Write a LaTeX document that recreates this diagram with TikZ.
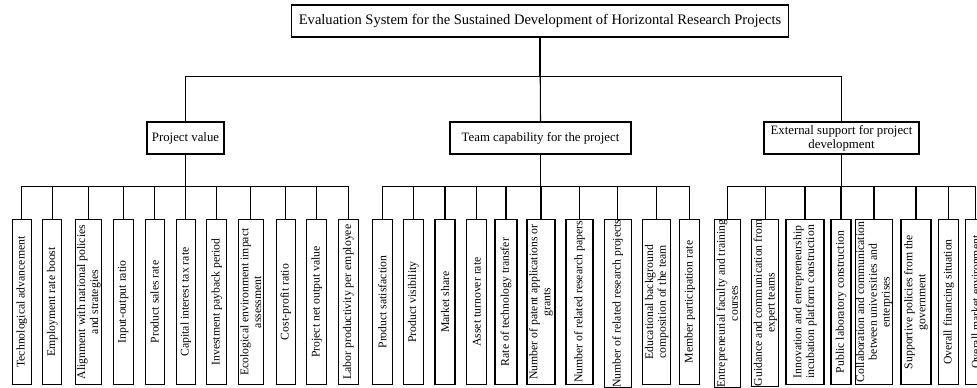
\documentclass[tikz,border=0pt]{standalone}
\usepackage{fontspec}
\setmainfont{Liberation Serif}
\usepackage{tikz}
\usetikzlibrary{positioning}

\tikzset{
  box/.style={draw, line width=0.8pt, inner sep=1pt, align=center},
  leaf/.style={draw, line width=0.8pt, rotate=90, anchor=east, inner sep=0pt,
               minimum width=123.75pt, minimum height=#1*0.75pt, align=center,
               font=\fontsize{8.8}{9.6}\selectfont},
  link/.style={line width=0.8pt}
}

\begin{document}
\begin{tikzpicture}[x=0.75pt, y=-0.75pt]
\useasboundingbox (0,0) rectangle (977,387);
%
\node[box, minimum width=372.75pt, minimum height=24pt, font=\fontsize{10.9}{12}\selectfont]
  (sys) at (540,21) {Evaluation System for the Sustained Development of Horizontal Research Projects};
%
\node[box, minimum width=57.75pt, minimum height=24pt, font=\fontsize{9.6}{10.5}\selectfont]
  (pv) at (185.5,138) {Project value};
\node[box, minimum width=135.75pt, minimum height=24pt, font=\fontsize{9.6}{10.5}\selectfont]
  (tc) at (540.5,138) {Team capability for the project};
\node[box, minimum width=116.25pt, minimum height=24pt, font=\fontsize{9.6}{10.5}\selectfont]
  (es) at (841.5,138) {External support for project\\development};
%
% project value
\node[leaf=19] (pv1) at (21.7,219) {Technological advancement};
\node[leaf=19] (pv2) at (52.3,219) {Employment rate boost};
\node[leaf=26] (pv3) at (88.8,219) {Alignment with national policies\\and strategies};
\node[leaf=20] (pv4) at (123.3,219) {Input-output ratio};
\node[leaf=19] (pv5) at (154.7,219) {Product sales rate};
\node[leaf=19] (pv6) at (185.7,219) {Capital interest tax rate};
\node[leaf=20] (pv7) at (216.8,219) {Investment payback period};
\node[leaf=25] (pv8) at (250.8,219) {Ecological environment impact\\assessment};
\node[leaf=19] (pv9) at (285.7,219) {Cost-profit ratio};
\node[leaf=20] (pv10) at (316.7,219) {Project net output value};
\node[leaf=20] (pv11) at (348.3,219) {Labor productivity per employee};
%
% team capability
\node[leaf=20] (tc1) at (382.3,219) {Product satisfaction};
\node[leaf=20] (tc2) at (413.3,219) {Product visibility};
\node[leaf=20] (tc3) at (445,219) {Market share};
\node[leaf=20] (tc4) at (476.7,219) {Asset turnover rate};
\node[leaf=22] (tc5) at (506,219) {Rate of technology transfer};
\node[leaf=28] (tc6) at (541,219) {Number of patent applications or\\grants};
\node[leaf=27] (tc7) at (579.5,219) {Number of related research papers};
\node[leaf=27] (tc8) at (617.7,219) {Number of related research projects};
\node[leaf=28] (tc9) at (656.7,219) {Educational background\\composition of the team};
\node[leaf=20] (tc10) at (689.7,219) {Member participation rate};
%
% external support
\node[leaf=26] (es1) at (727.3,219) {Entrepreneurial faculty and training\\courses};
\node[leaf=27] (es2) at (765.3,219) {Guidance and communication from\\expert teams};
\node[leaf=38] (es3) at (805,219) {Innovation and entrepreneurship\\incubation platform construction};
\node[leaf=20] (es4) at (841,219) {Public laboratory construction};
\node[leaf=37] (es5) at (874,219) {Collaboration and communication\\between universities and\\enterprises};
\node[leaf=30] (es6) at (916,219) {Supportive policies from the\\government};
\node[leaf=20] (es7) at (948.7,219) {Overall financing situation};
\node[leaf=20] (es8) at (975.7,219) {Overall market environment};
%
\draw[link] (sys.south) -- ++(0,39) -| (pv.north);
\draw[link] (sys.south) -- (tc.north);
\draw[link] (sys.south) -- ++(0,39) -| (es.north);
%
\draw[link] (pv.south) -- ++(0,32) -| (pv1.east);
\draw[link] (pv.south) -- ++(0,32) -| (pv2.east);
\draw[link] (pv.south) -- ++(0,32) -| (pv3.east);
\draw[link] (pv.south) -- ++(0,32) -| (pv4.east);
\draw[link] (pv.south) -- ++(0,32) -| (pv5.east);
\draw[link] (pv.south) -- ++(0,32) -| (pv6.east);
\draw[link] (pv.south) -- ++(0,32) -| (pv7.east);
\draw[link] (pv.south) -- ++(0,32) -| (pv8.east);
\draw[link] (pv.south) -- ++(0,32) -| (pv9.east);
\draw[link] (pv.south) -- ++(0,32) -| (pv10.east);
\draw[link] (pv.south) -- ++(0,32) -| (pv11.east);
%
\draw[link] (tc.south) -- ++(0,32) -| (tc1.east);
\draw[link] (tc.south) -- ++(0,32) -| (tc2.east);
\draw[link] (tc.south) -- ++(0,32) -| (tc3.east);
\draw[link] (tc.south) -- ++(0,32) -| (tc4.east);
\draw[link] (tc.south) -- ++(0,32) -| (tc5.east);
\draw[link] (tc.south) -- ++(0,32) -| (tc6.east);
\draw[link] (tc.south) -- ++(0,32) -| (tc7.east);
\draw[link] (tc.south) -- ++(0,32) -| (tc8.east);
\draw[link] (tc.south) -- ++(0,32) -| (tc9.east);
\draw[link] (tc.south) -- ++(0,32) -| (tc10.east);
%
\draw[link] (es.south) -- ++(0,32) -| (es1.east);
\draw[link] (es.south) -- ++(0,32) -| (es2.east);
\draw[link] (es.south) -- ++(0,32) -| (es3.east);
\draw[link] (es.south) -- ++(0,32) -| (es4.east);
\draw[link] (es.south) -- ++(0,32) -| (es5.east);
\draw[link] (es.south) -- ++(0,32) -| (es6.east);
\draw[link] (es.south) -- ++(0,32) -| (es7.east);
\draw[link] (es.south) -- ++(0,32) -| (es8.east);
%
\end{tikzpicture}
\end{document}
